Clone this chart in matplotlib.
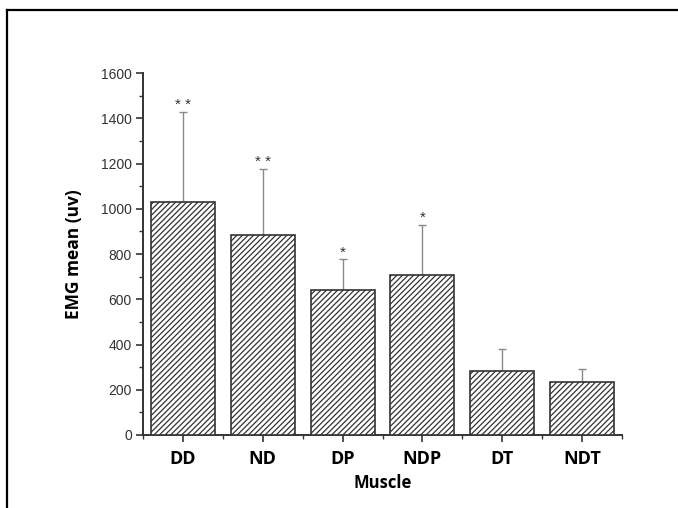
import numpy as np
import matplotlib
matplotlib.use('Agg')
import matplotlib.pyplot as plt
from matplotlib.lines import Line2D
from matplotlib.ticker import MultipleLocator

# EMG mean per muscle, upper error (SD) and significance marks
muscles = ['DD', 'ND', 'DP', 'NDP', 'DT', 'NDT']
emg_mean = [1028, 884, 642, 708, 284, 233]
emg_err = [400, 292, 134, 222, 96, 59]
sig_marks = ['**', '**', '*', '*', '', '']

plt.rcParams['hatch.color'] = '#6a6a6a'
plt.rcParams['hatch.linewidth'] = 0.9

fig = plt.figure(figsize=(6.78, 5.08), dpi=100)
ax = fig.add_axes([143 / 678, 1 - 435 / 508, (622 - 143) / 678, (435 - 73) / 508])

x = np.arange(1, len(muscles) + 1)
ax.bar(x, emg_mean, width=0.8, color='white', edgecolor='#333333',
       linewidth=1.2, hatch='//////', zorder=3)
ax.errorbar(x, emg_mean, yerr=[np.zeros(len(x)), emg_err], fmt='none',
            ecolor='#8a8a8a', elinewidth=1.0, capsize=3, capthick=1.0, zorder=2)

for xi, m, e, s in zip(x, emg_mean, emg_err, sig_marks):
    if s:
        ax.annotate(' '.join(s), (xi, m + e), xytext=(0, 0), textcoords='offset points',
                    ha='center', va='bottom', fontsize=11, color='#333333',
                    family='Liberation Sans')

ax.set_xlim(0.5, 6.5)
ax.set_ylim(0, 1600)
ax.set_xticks(x)
ax.set_xticklabels(muscles, fontsize=13, fontweight='bold', family='Open Sans')
ax.xaxis.set_minor_locator(MultipleLocator(1.0, offset=0.5))
ax.yaxis.set_major_locator(MultipleLocator(200))
ax.yaxis.set_minor_locator(MultipleLocator(100))

for lbl in ax.get_yticklabels():
    lbl.set_family('Liberation Sans')
    lbl.set_fontsize(10)
    lbl.set_color('#333333')

ax.tick_params(axis='both', which='major', direction='out', length=5, width=1.2,
               color='#333333')
ax.tick_params(axis='both', which='minor', direction='out', length=3, width=1.0,
               color='#333333')
ax.tick_params(axis='x', which='major', pad=6)
ax.tick_params(axis='y', which='major', pad=3)

for s in ('top', 'right'):
    ax.spines[s].set_visible(False)
for s in ('left', 'bottom'):
    ax.spines[s].set_color('#333333')
    ax.spines[s].set_linewidth(1.4)

ax.set_xlabel('Muscle', fontsize=12, fontweight='bold', family='Open Sans', labelpad=4)
ax.set_ylabel('EMG mean (uv)', fontsize=12.5, fontweight='bold', family='Open Sans',
              labelpad=13)

# outer frame (only left and top visible in the crop)
fx, fy = 7 / 678, 1 - 10 / 508
fig.add_artist(Line2D([fx, 1.01], [fy, fy], color='black', linewidth=1.6,
                      transform=fig.transFigure))
fig.add_artist(Line2D([fx, fx], [fy, -0.01], color='black', linewidth=1.6,
                      transform=fig.transFigure))

fig.savefig('out.png', dpi=100)
